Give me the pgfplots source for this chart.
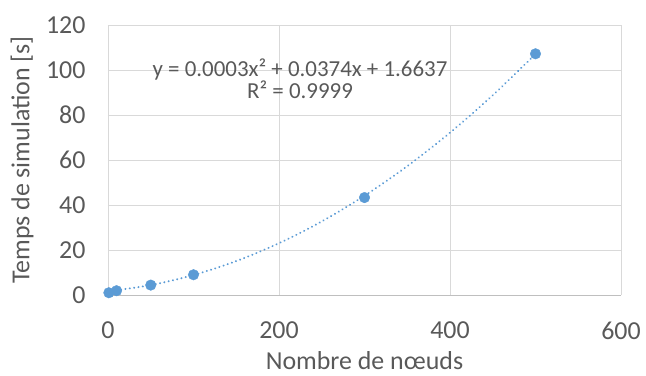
\documentclass[border=0pt]{standalone}
\usepackage{pgfplots}
\pgfplotsset{compat=1.18}
\usepackage{fontspec}
\setmainfont{Carlito}

\definecolor{ptblue}{HTML}{5B9BD5}
\definecolor{gridgray}{HTML}{D9D9D9}
\definecolor{axisgray}{HTML}{BFBFBF}
\definecolor{txtgray}{HTML}{595959}

% measured points
\pgfplotstableread{
x y
1 1.0
10 1.9
50 4.4
100 9.0
300 43.3
500 107.2
}\simdata

% trendline
\pgfplotstableread{
x y
0 1.66
50 4.40
100 8.87
150 15.08
200 23.02
250 32.70
300 44.11
350 57.26
400 72.14
450 88.76
500 107.11
}\trend

\begin{document}
\begin{tikzpicture}
\begin{axis}[
  at={(0,0)}, anchor=south west,
  scale only axis,
  width=513bp, height=270bp,
  xmin=0, xmax=600, ymin=0, ymax=120,
  xtick={0,200,400,600},
  ytick={0,20,...,120},
  grid=major,
  major grid style={draw=gridgray, line width=0.8pt},
  axis x line=bottom, axis y line=left,
  axis line style={-},
  x axis line style={draw=axisgray, line width=0.8pt},
  y axis line style={draw=none},
  major tick length=0pt,
  tick label style={font=\fontsize{26}{30}\selectfont, text=txtgray},
  /pgf/number format/assume math mode=true,
  xticklabel style={yshift=-23bp},
  yticklabel style={xshift=-19bp},
  xlabel={Nombre de nœuds},
  ylabel={Temps de simulation [s]},
  every axis x label/.style={at={([yshift=-66bp]rel axis cs:0.5,0)}, anchor=center,
    font=\fontsize{26}{30}\selectfont, text=txtgray},
  every axis y label/.style={at={([xshift=-86bp]rel axis cs:0,0.5)}, anchor=center, rotate=90,
    font=\fontsize{26}{30}\selectfont, text=txtgray},
  clip=false,
]
\addplot[ptblue, line width=2.2pt, dash pattern=on 0.01pt off 4.4pt, line cap=round, smooth] table[x=x, y=y] {\trend};
\addplot[only marks, mark=*, mark size=5.3bp, mark options={fill=ptblue, draw=ptblue}] table[x=x, y=y] {\simdata};
\node[text=txtgray, font=\fontsize{23}{27}\selectfont] at (axis cs:224.6,100) {y = 0.0003x² + 0.0374x + 1.6637};
\node[text=txtgray, font=\fontsize{23}{27}\selectfont] at (axis cs:224.6,91) {R² = 0.9999};
\end{axis}
\pgfresetboundingbox
\path (-108bp,-81bp) rectangle (538bp,295bp);
\end{tikzpicture}
\end{document}
